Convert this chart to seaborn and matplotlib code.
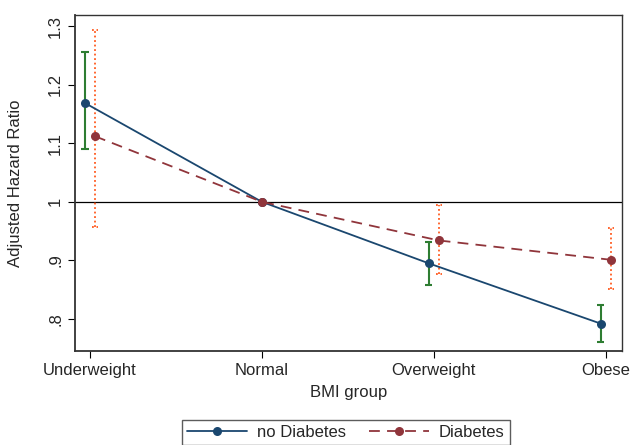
import numpy as np
import pandas as pd
import matplotlib
matplotlib.use("Agg")
import matplotlib.pyplot as plt
import seaborn as sns

groups = ["Underweight", "Normal", "Overweight", "Obese"]
hr_nodm = [1.169, 1.0, 0.895, 0.792]
lo_nodm = [1.090, 1.0, 0.858, 0.760]
hi_nodm = [1.256, 1.0, 0.932, 0.824]
hr_dm = [1.112, 1.0, 0.934, 0.901]
lo_dm = [0.957, 1.0, 0.876, 0.851]
hi_dm = [1.294, 1.0, 0.995, 0.955]
yticks = [0.8, 0.9, 1.0, 1.1, 1.2, 1.3]
ylabels = [".8", ".9", "1", "1.1", "1.2", "1.3"]

sns.set_style("ticks")
plt.rcParams['font.family'] = ['Liberation Sans', 'DejaVu Sans']

pos = np.arange(len(groups))
# reference group (Normal) drawn without offset
off = np.array([0.03, 0.0, 0.03, 0.03])
nodm_x = pos - off
dm_x = pos + off
df = pd.DataFrame({
    "x": np.concatenate([nodm_x, dm_x]),
    "hr": hr_nodm + hr_dm,
    "grp": ["no Diabetes"] * 4 + ["Diabetes"] * 4,
})

fig = plt.figure(figsize=(6.3, 4.45), dpi=100)
ax = fig.add_axes([0.119, 0.211, 0.868, 0.755])

ax.axhline(1.0, color="black", lw=0.9, zorder=1)

# confidence intervals (skip the reference group)
m = np.array([True, False, True, True])
lo1, hi1 = np.array(lo_nodm)[m], np.array(hi_nodm)[m]
lo2, hi2 = np.array(lo_dm)[m], np.array(hi_dm)[m]
ax.vlines(nodm_x[m], lo1, hi1, color="#2e7d32", lw=1.5, zorder=2)
ax.hlines(np.concatenate([lo1, hi1]),
          np.tile(nodm_x[m], 2) - 0.022, np.tile(nodm_x[m], 2) + 0.022,
          color="#2e7d32", lw=1.5, zorder=2)
ax.vlines(dm_x[m], lo2, hi2, color="#ff5a1f", lw=1.3,
          linestyles=(0, (1, 1.5)), zorder=2)
ax.hlines(np.concatenate([lo2, hi2]),
          np.tile(dm_x[m], 2) - 0.018, np.tile(dm_x[m], 2) + 0.018,
          color="#ff5a1f", lw=1.3, linestyles=(0, (1, 1.5)), zorder=2)

sns.lineplot(data=df, x="x", y="hr", hue="grp", style="grp",
             hue_order=["no Diabetes", "Diabetes"], style_order=["no Diabetes", "Diabetes"],
             palette=["#1a476f", "#90353b"], dashes=[(None, None), (6, 4)],
             markers=["o", "o"], markersize=6.5, markeredgewidth=0, lw=1.3,
             ax=ax, zorder=3)

ax.set_xlim(-0.087, 3.093)
ax.set_ylim(0.745, 1.319)
ax.set_xticks(pos)
ax.set_xticklabels(groups, fontsize=12)
ax.set_yticks(yticks)
ax.set_yticklabels(ylabels, fontsize=12, rotation=90, va="center")
ax.set_xlabel("BMI group", fontsize=12, labelpad=5)
ax.set_ylabel("Adjusted Hazard Ratio", fontsize=12, labelpad=18)
for s in ax.spines.values():
    s.set_color("#333333")
    s.set_linewidth(1.0)
ax.spines["left"].set_linewidth(1.3)
ax.spines["bottom"].set_linewidth(1.3)
ax.tick_params(length=5, color="black")

h, l = ax.get_legend_handles_labels()
leg = ax.legend(h, l, loc="upper center", bbox_to_anchor=(0.32, -0.18, 0.35, 0.0),
                ncol=2, frameon=True, fancybox=False, fontsize=12, handlelength=3.6,
                handletextpad=0.6, columnspacing=1.4, borderpad=0.3, edgecolor="#333333")
leg.get_frame().set_linewidth(1.0)

fig.savefig("out.png", dpi=100)
